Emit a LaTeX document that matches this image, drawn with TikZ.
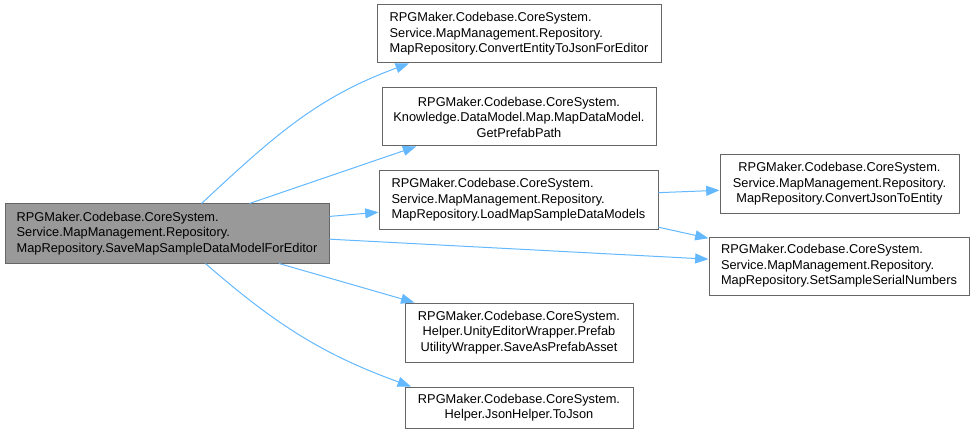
\documentclass[tikz,border=0pt]{standalone}
\usepackage{fontspec}
\setmainfont{Liberation Sans}
\usepackage{tikz}
\usetikzlibrary{arrows.meta,shapes,positioning}

\definecolor{edgeblue}{HTML}{63B8FF}
\definecolor{boxline}{HTML}{666666}
\definecolor{boxfill}{HTML}{999999}

\begin{document}
\begin{tikzpicture}[x=0.75pt, y=-0.75pt,
  fn/.style={draw=boxline, fill=white, rectangle, inner sep=0pt, line width=0.75pt,
    font=\fontsize{9.6}{11.6}\selectfont},
  call/.style={draw=edgeblue, line width=0.75pt, -{Triangle[length=10pt,width=7.5pt]}, fill=none},
  every to/.style={}]

\useasboundingbox (0,0) rectangle (976,435);

% the function itself
\node[fn, fill=boxfill, align=left, minimum width=324*0.75pt, minimum height=59*0.75pt] (save) at (167,233.5)
  {RPGMaker.Codebase.CoreSystem.\\Service.MapManagement.Repository.\\MapRepository.SaveMapSampleDataModelForEditor};

% what it calls
\node[fn, align=left, minimum width=284*0.75pt, minimum height=58*0.75pt] (toEditorJson) at (519,34)
  {RPGMaker.Codebase.CoreSystem.\\Service.MapManagement.Repository.\\MapRepository.ConvertEntityToJsonForEditor};
\node[fn, align=center, minimum width=274*0.75pt, minimum height=58*0.75pt] (prefabPath) at (519,117)
  {RPGMaker.Codebase.CoreSystem.\\Knowledge.DataModel.Map.MapDataModel.\\GetPrefabPath};
\node[fn, align=left, minimum width=279*0.75pt, minimum height=58*0.75pt] (loadSamples) at (518.5,200)
  {RPGMaker.Codebase.CoreSystem.\\Service.MapManagement.Repository.\\MapRepository.LoadMapSampleDataModels};
\node[fn, align=center, minimum width=239*0.75pt, minimum height=58*0.75pt] (jsonToEntity) at (839.5,184)
  {RPGMaker.Codebase.CoreSystem.\\Service.MapManagement.Repository.\\MapRepository.ConvertJsonToEntity};
\node[fn, align=left, minimum width=260*0.75pt, minimum height=58*0.75pt] (serialNumbers) at (839,266)
  {RPGMaker.Codebase.CoreSystem.\\Service.MapManagement.Repository.\\MapRepository.SetSampleSerialNumbers};
\node[fn, align=center, minimum width=228*0.75pt, minimum height=59*0.75pt] (saveAsPrefab) at (519,332.5)
  {RPGMaker.Codebase.CoreSystem.\\Helper.UnityEditorWrapper.Prefab\\UtilityWrapper.SaveAsPrefabAsset};
\node[fn, align=center, minimum width=228*0.75pt, minimum height=41*0.75pt] (toJson) at (519,407.5)
  {RPGMaker.Codebase.CoreSystem.\\Helper.JsonHelper.ToJson};

% calls
\draw[call] (save.41) to[out=43, in=200] (toEditorJson.195);
\draw[call] (save.20) -- (prefabPath.196);
\draw[call] (save.6) -- (loadSamples.185);
\draw[call] (save.-2.6) -- (serialNumbers.177.4);
\draw[call] (save.-15) -- (saveAsPrefab.164);
\draw[call] (save.-38) to[out=-41, in=160] (toJson.169);

\draw[call] (loadSamples.3) -- (jsonToEntity.183);
\draw[call] (loadSamples.-11.7) -- (serialNumbers.168);

\end{tikzpicture}
\end{document}
